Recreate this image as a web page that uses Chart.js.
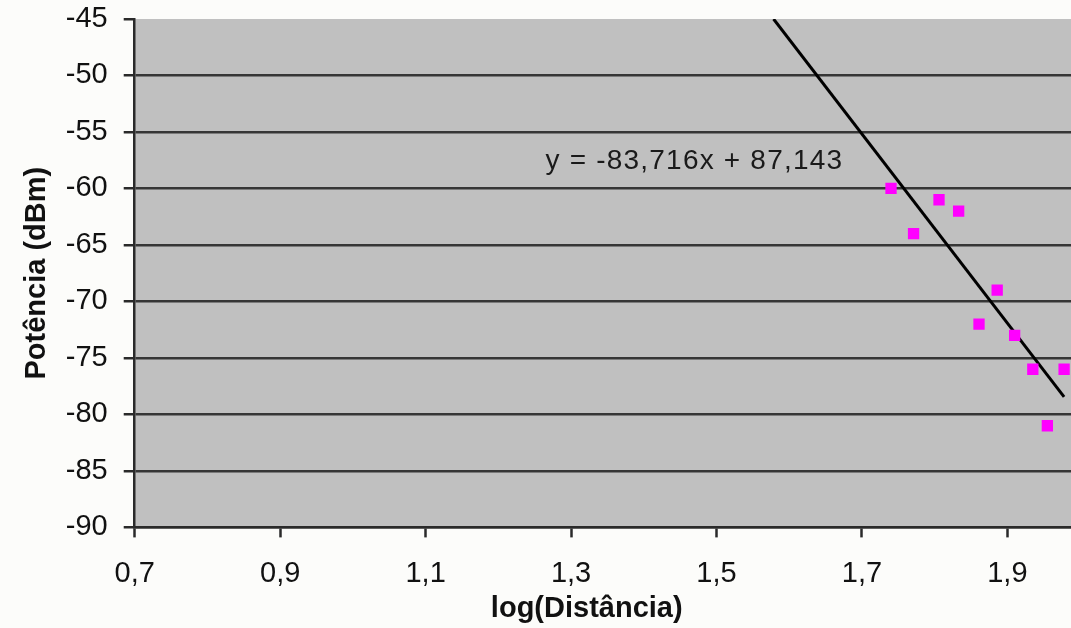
<!DOCTYPE html>
<html><head><meta charset="utf-8">
<script src="https://cdn.jsdelivr.net/npm/chart.js@4.4.1/dist/chart.umd.min.js"></script>
<style>html,body{margin:0;padding:0;background:#fcfcfa;overflow:hidden}#wrap{width:1071px;height:628px;position:relative}</style>
</head><body><div id="wrap"><canvas id="c"></canvas></div>
<script>
const logDist = [1.740, 1.771, 1.806, 1.833, 1.861, 1.886, 1.910, 1.935, 1.955, 1.978];
const power   = [-60, -64, -61, -62, -72, -69, -73, -76, -81, -76];
const trendX  = [1.5785, 1.978];
const trendY  = [-45, -78.45];
const equationText = 'y = -83,716x + 87,143';
const equationAt = [1.265, -57.6];
const xTickValues = [0.7, 0.9, 1.1, 1.3, 1.5, 1.7, 1.9];
const yTickValues = [-45, -50, -55, -60, -65, -70, -75, -80, -85, -90];
const xTitle = 'log(Distância)    ';
const yTitle = 'Potência (dBm)';

const FONT = "'Liberation Sans', Arial, sans-serif";
const dark = '#2a2a2a';

const plotBg = {
  id: 'plotBg',
  beforeDraw(chart) {
    const {ctx, chartArea: a} = chart;
    ctx.save();
    ctx.fillStyle = '#c0c0c0';
    ctx.fillRect(a.left, a.top, a.right - a.left, a.bottom - a.top);
    ctx.restore();
  }
};
const eqLabel = {
  id: 'eqLabel',
  afterDatasetsDraw(chart) {
    const {ctx, scales} = chart;
    ctx.save();
    ctx.font = '28px ' + FONT;
    ctx.letterSpacing = '1.2px';
    ctx.fillStyle = '#1a1a1a';
    ctx.textAlign = 'left';
    ctx.textBaseline = 'middle';
    ctx.fillText(equationText, scales.x.getPixelForValue(equationAt[0]), scales.y.getPixelForValue(equationAt[1]));
    ctx.restore();
  }
};

new Chart(document.getElementById('c'), {
  type: 'scatter',
  data: {
    datasets: [
      {
        label: 'Medidas',
        data: logDist.map((x, i) => ({x, y: power[i]})),
        pointStyle: 'rect',
        pointRadius: 8,
        pointBorderWidth: 0,
        backgroundColor: '#ff00ff',
        borderColor: '#ff00ff',
        order: 1
      },
      {
        label: 'Tendência',
        data: trendX.map((x, i) => ({x, y: trendY[i]})),
        showLine: true,
        borderColor: '#000',
        borderWidth: 3,
        pointRadius: 0,
        order: 2
      }
    ]
  },
  options: {
    responsive: true,
    maintainAspectRatio: false,
    animation: false,
    layout: {autoPadding: false, padding: {left: 20, top: 19, right: 0, bottom: 2}},
    plugins: {legend: {display: false}, tooltip: {enabled: false}},
    scales: {
      x: {
        type: 'linear',
        min: 0.7,
        max: 1.9875,
        afterBuildTicks(s) { s.ticks = xTickValues.map(v => ({value: v})); },
        afterFit(s) { s.paddingLeft = 0; s.paddingRight = 0; },
        grid: {drawOnChartArea: false, tickLength: 10, tickColor: dark, tickWidth: 2.5},
        border: {color: dark, width: 2.5},
        ticks: {
          font: {family: FONT, size: 29},
          color: '#111',
          padding: 19,
          maxRotation: 0,
          autoSkip: false,
          callback: v => v.toFixed(1).replace('.', ',')
        },
        title: {display: true, text: xTitle, font: {family: FONT, size: 29, weight: 'bold'}, color: '#111', padding: {top: -19, bottom: 0}}
      },
      y: {
        type: 'linear',
        min: -90,
        max: -45,
        afterBuildTicks(s) { s.ticks = yTickValues.map(v => ({value: v})); },
        afterFit(s) { s.paddingTop = 0; s.paddingBottom = 0; },
        grid: {
          color: c => (c.tick && c.tick.value === -45) ? 'rgba(0,0,0,0)' : '#363636',
          lineWidth: 2.5,
          tickLength: 11,
          tickColor: dark,
          tickWidth: 2.5
        },
        border: {color: dark, width: 2.5},
        ticks: {
          font: {family: FONT, size: 29},
          color: '#111',
          padding: 16,
          autoSkip: false,
          callback: v => String(v)
        },
        title: {display: true, text: yTitle, font: {family: FONT, size: 29, weight: 'bold'}, color: '#111', padding: {top: 0, bottom: -5}}
      }
    }
  },
  plugins: [plotBg, eqLabel]
});
</script>
</body></html>
